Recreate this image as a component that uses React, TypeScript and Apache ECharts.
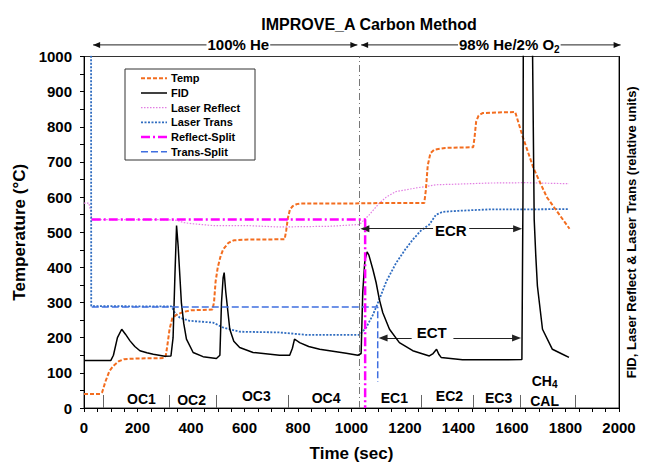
import React, { useEffect, useRef } from 'react';
import * as echarts from 'echarts';

// ---------- data ----------
const tempTime = [0, 60, 68, 80, 95, 110, 130, 150, 200, 300, 306, 312, 320, 330, 345, 370, 400, 480, 486, 492, 500, 510, 520, 540, 560, 600, 750, 756, 762, 770, 780, 795, 810, 900, 1000, 1100, 1200, 1272, 1278, 1285, 1295, 1310, 1350, 1455, 1460, 1466, 1475, 1490, 1550, 1612, 1640, 1680, 1730, 1815];
const tempValues = [40, 40, 45, 75, 105, 120, 133, 139, 141, 142, 150, 180, 225, 255, 265, 273, 278, 280, 300, 360, 400, 430, 451, 470, 477, 479, 480, 505, 540, 565, 574, 580, 582, 582, 582, 583, 583, 583, 620, 690, 725, 735, 740, 742, 770, 815, 832, 839, 841, 842, 772, 683, 600, 510];

const fidTime = [0, 100, 110, 125, 141, 155, 172, 190, 209, 235, 259, 302, 325, 333, 340, 346, 352, 364, 373, 383, 408, 445, 495, 508, 514, 520, 524, 530, 545, 560, 582, 632, 731, 769, 779, 787, 795, 806, 840, 881, 980, 1024, 1036, 1042, 1050, 1058, 1065, 1080, 1092, 1104, 1117, 1142, 1179, 1229, 1291, 1305, 1318, 1327, 1335, 1415, 1540, 1637, 1641, 1643, 1660, 1677, 1683, 1689, 1695, 1714, 1751, 1789, 1813];
const fidValues = [135, 135, 150, 200, 224, 210, 191, 175, 163, 157, 153, 147, 148, 200, 380, 519, 460, 300, 240, 196, 158, 146, 141, 150, 300, 370, 385, 330, 224, 190, 172, 158, 150, 150, 170, 196, 192, 186, 175, 167, 156, 150, 155, 329, 420, 444, 435, 394, 357, 309, 271, 224, 186, 163, 148, 155, 167, 152, 144, 137, 137, 138, 600, 1300, 1500, 1000, 536, 432, 347, 224, 167, 153, 144];

const reflTime = [0, 18, 25, 29, 100, 200, 300, 346, 370, 395, 482, 607, 731, 918, 1030, 1055, 1067, 1104, 1130, 1167, 1242, 1316, 1515, 1650, 1813];
const reflValues = [583, 583, 560, 536, 536, 536, 536, 534, 528, 525, 519, 519, 515, 517, 522, 541, 550, 583, 600, 616, 626, 635, 640, 641, 638];

const transTime = [0, 26, 27, 100, 200, 327, 340, 358, 395, 482, 520, 582, 731, 831, 1030, 1055, 1080, 1104, 1130, 1167, 1200, 1229, 1260, 1291, 1316, 1341, 1400, 1515, 1650, 1813];
const transValues = [1500, 1500, 290, 290, 289, 289, 270, 257, 248, 243, 229, 217, 215, 208, 208, 229, 265, 309, 360, 413, 450, 479, 505, 522, 550, 558, 561, 565, 565, 566];

const reflSplitTime = [29, 1051, 1051];
const reflSplitValues = [536, 536, 0];
const transSplitTime = [29, 1098, 1098];
const transSplitValues = [287, 287, 75];

const gasSwitchTime = 1030;
const separatorTimes = [72, 318, 495, 763, 1260, 1456, 1630, 1835];
const separatorHeight = 37;

const stageNames = ['OC1', 'OC2', 'OC3', 'OC4', 'EC1', 'EC2', 'EC3', '{m|CH}{s|4}', 'CAL'];
const stageTimes = [215, 402, 644, 905, 1160, 1366, 1550, 1722, 1722];
const stageLevels = [25, 23, 34, 29, 29, 34, 28, 77, 20];

const splitNames = ['ECR', 'ECT'];
const splitTimes = [1371, 1300];
const splitLabelLevels = [505, 215];
const ecrLevel = 510;
const ectLevel = 199;

const xTicks = { min: 0, max: 2000, interval: 200 };
const yTicks = { min: 0, max: 1000, interval: 100 };

// ---------- styles ----------
const FONT = '"Liberation Sans", Arial, Helvetica, sans-serif';
const C_TEMP = '#f36d1f';
const C_FID = '#000000';
const C_REFL = '#e27ee2';
const C_TRANS = '#2f6cc0';
const C_RSPLIT = '#ff00ff';
const C_TSPLIT = '#3f6fe0';

const legendDefs = [
  { name: 'Temp', color: C_TEMP, width: 2, dash: [4, 2] },
  { name: 'FID', color: C_FID, width: 1.5, dash: null },
  { name: 'Laser Reflect', color: C_REFL, width: 1.2, dash: [1.5, 1.5] },
  { name: 'Laser Trans', color: C_TRANS, width: 1.8, dash: [2, 1.5] },
  { name: 'Reflect-Split', color: C_RSPLIT, width: 2.5, dash: [9, 3, 2, 3] },
  { name: 'Trans-Split', color: C_TSPLIT, width: 1.5, dash: [7, 3] },
];

const pairs = (xs: number[], ys: number[]) => xs.map((x, i) => [x, ys[i]]);

const lineSeries = (name: string, xs: number[], ys: number[], yAxisIndex: number, def: any, z = 2) => ({
  name,
  type: 'line',
  yAxisIndex,
  data: pairs(xs, ys),
  showSymbol: false,
  symbol: 'none',
  silent: true,
  z,
  lineStyle: { color: def.color, width: def.width, type: def.dash || 'solid' },
});

const bold = (size: number) => ({ fontFamily: FONT, fontWeight: 'bold', fontSize: size, color: '#000' });
const plain = (v: number) => String(v);

const textSeries = (name: string, texts: string[], xs: number[], ys: number[], size: number) => ({
  name,
  type: 'custom',
  yAxisIndex: 0,
  silent: true,
  z: 10,
  data: pairs(xs, ys),
  renderItem: (params: any, api: any) => {
    const p = api.coord([api.value(0), api.value(1)]);
    return {
      type: 'text',
      x: p[0],
      y: p[1],
      style: {
        text: texts[params.dataIndex],
        fill: '#000',
        font: `bold ${size}px ${FONT}`,
        align: 'center',
        verticalAlign: 'middle',
        rich: {
          m: { fontFamily: FONT, fontWeight: 'bold', fontSize: size, fill: '#000', lineHeight: 18, verticalAlign: 'middle' },
          s: { fontFamily: FONT, fontWeight: 'bold', fontSize: 10, fill: '#000', lineHeight: 18, verticalAlign: 'bottom' },
        },
      },
    };
  },
});

export default function App() {
  const ref = useRef<HTMLDivElement>(null);

  useEffect(() => {
    document.body.style.margin = '0';
    const chart = echarts.init(ref.current!, null, { renderer: 'svg' });

    const option: any = {
      animation: false,
      textStyle: { fontFamily: FONT },
      title: {
        text: 'IMPROVE_A Carbon Method',
        left: 364,
        top: 11,
        textAlign: 'center',
        textStyle: bold(16),
      },
      grid: { left: 84, right: 26, top: 56.5, bottom: 58, show: true, borderColor: '#333', borderWidth: 1 },
      xAxis: {
        type: 'value',
        ...xTicks,
        name: 'Time (sec)',
        nameLocation: 'middle',
        nameGap: 37,
        nameTextStyle: bold(17),
        axisLine: { show: true, lineStyle: { color: '#000', width: 1 } },
        axisTick: { show: true, length: 4, lineStyle: { color: '#000' } },
        minorTick: { show: true, splitNumber: 4, length: 4, lineStyle: { color: '#000' } },
        splitLine: { show: false },
        minorSplitLine: { show: false },
        axisLabel: { ...bold(15), margin: 12, formatter: plain },
      },
      yAxis: [
        {
          type: 'value',
          ...yTicks,
          position: 'left',
          name: 'Temperature (°C)',
          nameLocation: 'middle',
          nameGap: 56,
          nameRotate: 90,
          nameTextStyle: bold(17),
          axisLine: { show: true, lineStyle: { color: '#000', width: 1 } },
          axisTick: { show: true, length: 4, lineStyle: { color: '#000' } },
          minorTick: { show: true, splitNumber: 2, length: 4, lineStyle: { color: '#000' } },
          splitLine: { show: false },
          axisLabel: { ...bold(15), margin: 12, formatter: plain },
        },
        {
          type: 'value',
          ...yTicks,
          position: 'right',
          name: 'FID, Laser Reflect & Laser Trans (relative units)',
          nameLocation: 'middle',
          nameGap: 6,
          nameRotate: 90,
          nameTextStyle: bold(13),
          axisLine: { show: true, lineStyle: { color: '#000', width: 1 } },
          axisTick: { show: false },
          axisLabel: { show: false },
          splitLine: { show: false },
        },
      ],
      series: [
        lineSeries('Laser Reflect', reflTime, reflValues, 1, legendDefs[2], 2),
        lineSeries('Laser Trans', transTime, transValues, 1, legendDefs[3], 3),
        lineSeries('Temp', tempTime, tempValues, 0, legendDefs[0], 4),
        lineSeries('FID', fidTime, fidValues, 1, legendDefs[1], 5),
        lineSeries('Trans-Split', transSplitTime, transSplitValues, 1, legendDefs[5], 6),
        lineSeries('Reflect-Split', reflSplitTime, reflSplitValues, 1, legendDefs[4], 7),
        {
          name: 'gas-switch',
          type: 'line',
          yAxisIndex: 0,
          data: [],
          silent: true,
          markLine: {
            silent: true,
            symbol: ['none', 'none'],
            label: { show: false },
            lineStyle: { color: '#777', width: 1, type: [7, 3, 1, 3] },
            data: [{ xAxis: gasSwitchTime }],
          },
        },
        {
          name: 'separators',
          type: 'line',
          yAxisIndex: 0,
          data: [],
          silent: true,
          markLine: {
            silent: true,
            symbol: ['none', 'none'],
            label: { show: false },
            lineStyle: { color: '#666', width: 1, type: 'solid' },
            data: separatorTimes.map((t) => [{ coord: [t, 0] }, { coord: [t, separatorHeight] }]),
          },
        },
        {
          name: 'split-arrows',
          type: 'line',
          yAxisIndex: 0,
          data: [],
          silent: true,
          markLine: {
            silent: true,
            symbol: ['triangle', 'none'],
            symbolSize: [7, 9],
            label: { show: false },
            lineStyle: { color: '#222', width: 1, type: 'solid' },
            data: [
              [{ coord: [1050, ecrLevel] }, { coord: [1305, ecrLevel] }],
              [{ coord: [1621, ecrLevel] }, { coord: [1440, ecrLevel] }],
              [{ coord: [1118, ectLevel] }, { coord: [1225, ectLevel] }],
              [{ coord: [1617, ectLevel] }, { coord: [1381, ectLevel] }],
            ],
          },
        },
        textSeries('stage-labels', stageNames, stageTimes, stageLevels, 14),
        textSeries('split-labels', splitNames, splitTimes, splitLabelLevels, 15),
      ],
    };

    chart.setOption(option);

    // ---- header arrows (gas composition) ----
    const hdrLevel = 1033;
    const headers = [
      { text: '{a|100% He}', from: 34, to: 1022, mid: 577 },
      { text: '{a|98% He/2% O}{b|2}', from: 1036, to: 2006, mid: 1590 },
    ];
    const px = (t: number, v: number) => chart.convertToPixel({ xAxisIndex: 0, yAxisIndex: 0 }, [t, v]) as number[];
    const graphics: any[] = [];
    headers.forEach((h) => {
      const a = px(h.from, hdrLevel);
      const b = px(h.to, hdrLevel);
      const m = px(h.mid, hdrLevel);
      graphics.push({ type: 'line', silent: true, shape: { x1: a[0], y1: a[1], x2: b[0], y2: b[1] }, style: { stroke: '#222', lineWidth: 1 } });
      graphics.push({ type: 'polygon', silent: true, shape: { points: [[a[0], a[1]], [a[0] + 7, a[1] - 3], [a[0] + 7, a[1] + 3]] }, style: { fill: '#111' } });
      graphics.push({ type: 'polygon', silent: true, shape: { points: [[b[0], b[1]], [b[0] - 7, b[1] - 3], [b[0] - 7, b[1] + 3]] }, style: { fill: '#111' } });
      graphics.push({
        type: 'text',
        silent: true,
        x: m[0],
        y: m[1],
        z: 10,
        style: {
          text: h.text,
          align: 'center',
          verticalAlign: 'middle',
          backgroundColor: '#fff',
          padding: [0, 1],
          rich: {
            a: { fontFamily: FONT, fontWeight: 'bold', fontSize: 15, fill: '#000', lineHeight: 20, verticalAlign: 'middle' },
            b: { fontFamily: FONT, fontWeight: 'bold', fontSize: 10, fill: '#000', lineHeight: 20, verticalAlign: 'bottom' },
          },
        },
      });
    });

    // ---- legend box ----
    const lgX = 125, lgY = 69, lgW = 130, lgH = 91;
    graphics.push({ type: 'rect', silent: true, z: 20, shape: { x: lgX, y: lgY, width: lgW, height: lgH }, style: { fill: '#fff', stroke: '#333', lineWidth: 1 } });
    legendDefs.forEach((d, i) => {
      const yc = lgY + 9.3 + i * 14.7;
      graphics.push({ type: 'line', silent: true, z: 21, shape: { x1: lgX + 16, y1: yc, x2: lgX + 42, y2: yc }, style: { stroke: d.color, lineWidth: d.width, lineDash: d.dash || null } });
      graphics.push({ type: 'text', silent: true, z: 21, x: lgX + 46, y: yc, style: { text: d.name, fill: '#000', font: `bold 11px ${FONT}`, align: 'left', verticalAlign: 'middle' } });
    });

    chart.setOption({ graphic: graphics });

    return () => chart.dispose();
  }, []);

  return <div ref={ref} style={{ width: 646, height: 467, position: 'absolute', left: 0, top: 0 }} />;
}
